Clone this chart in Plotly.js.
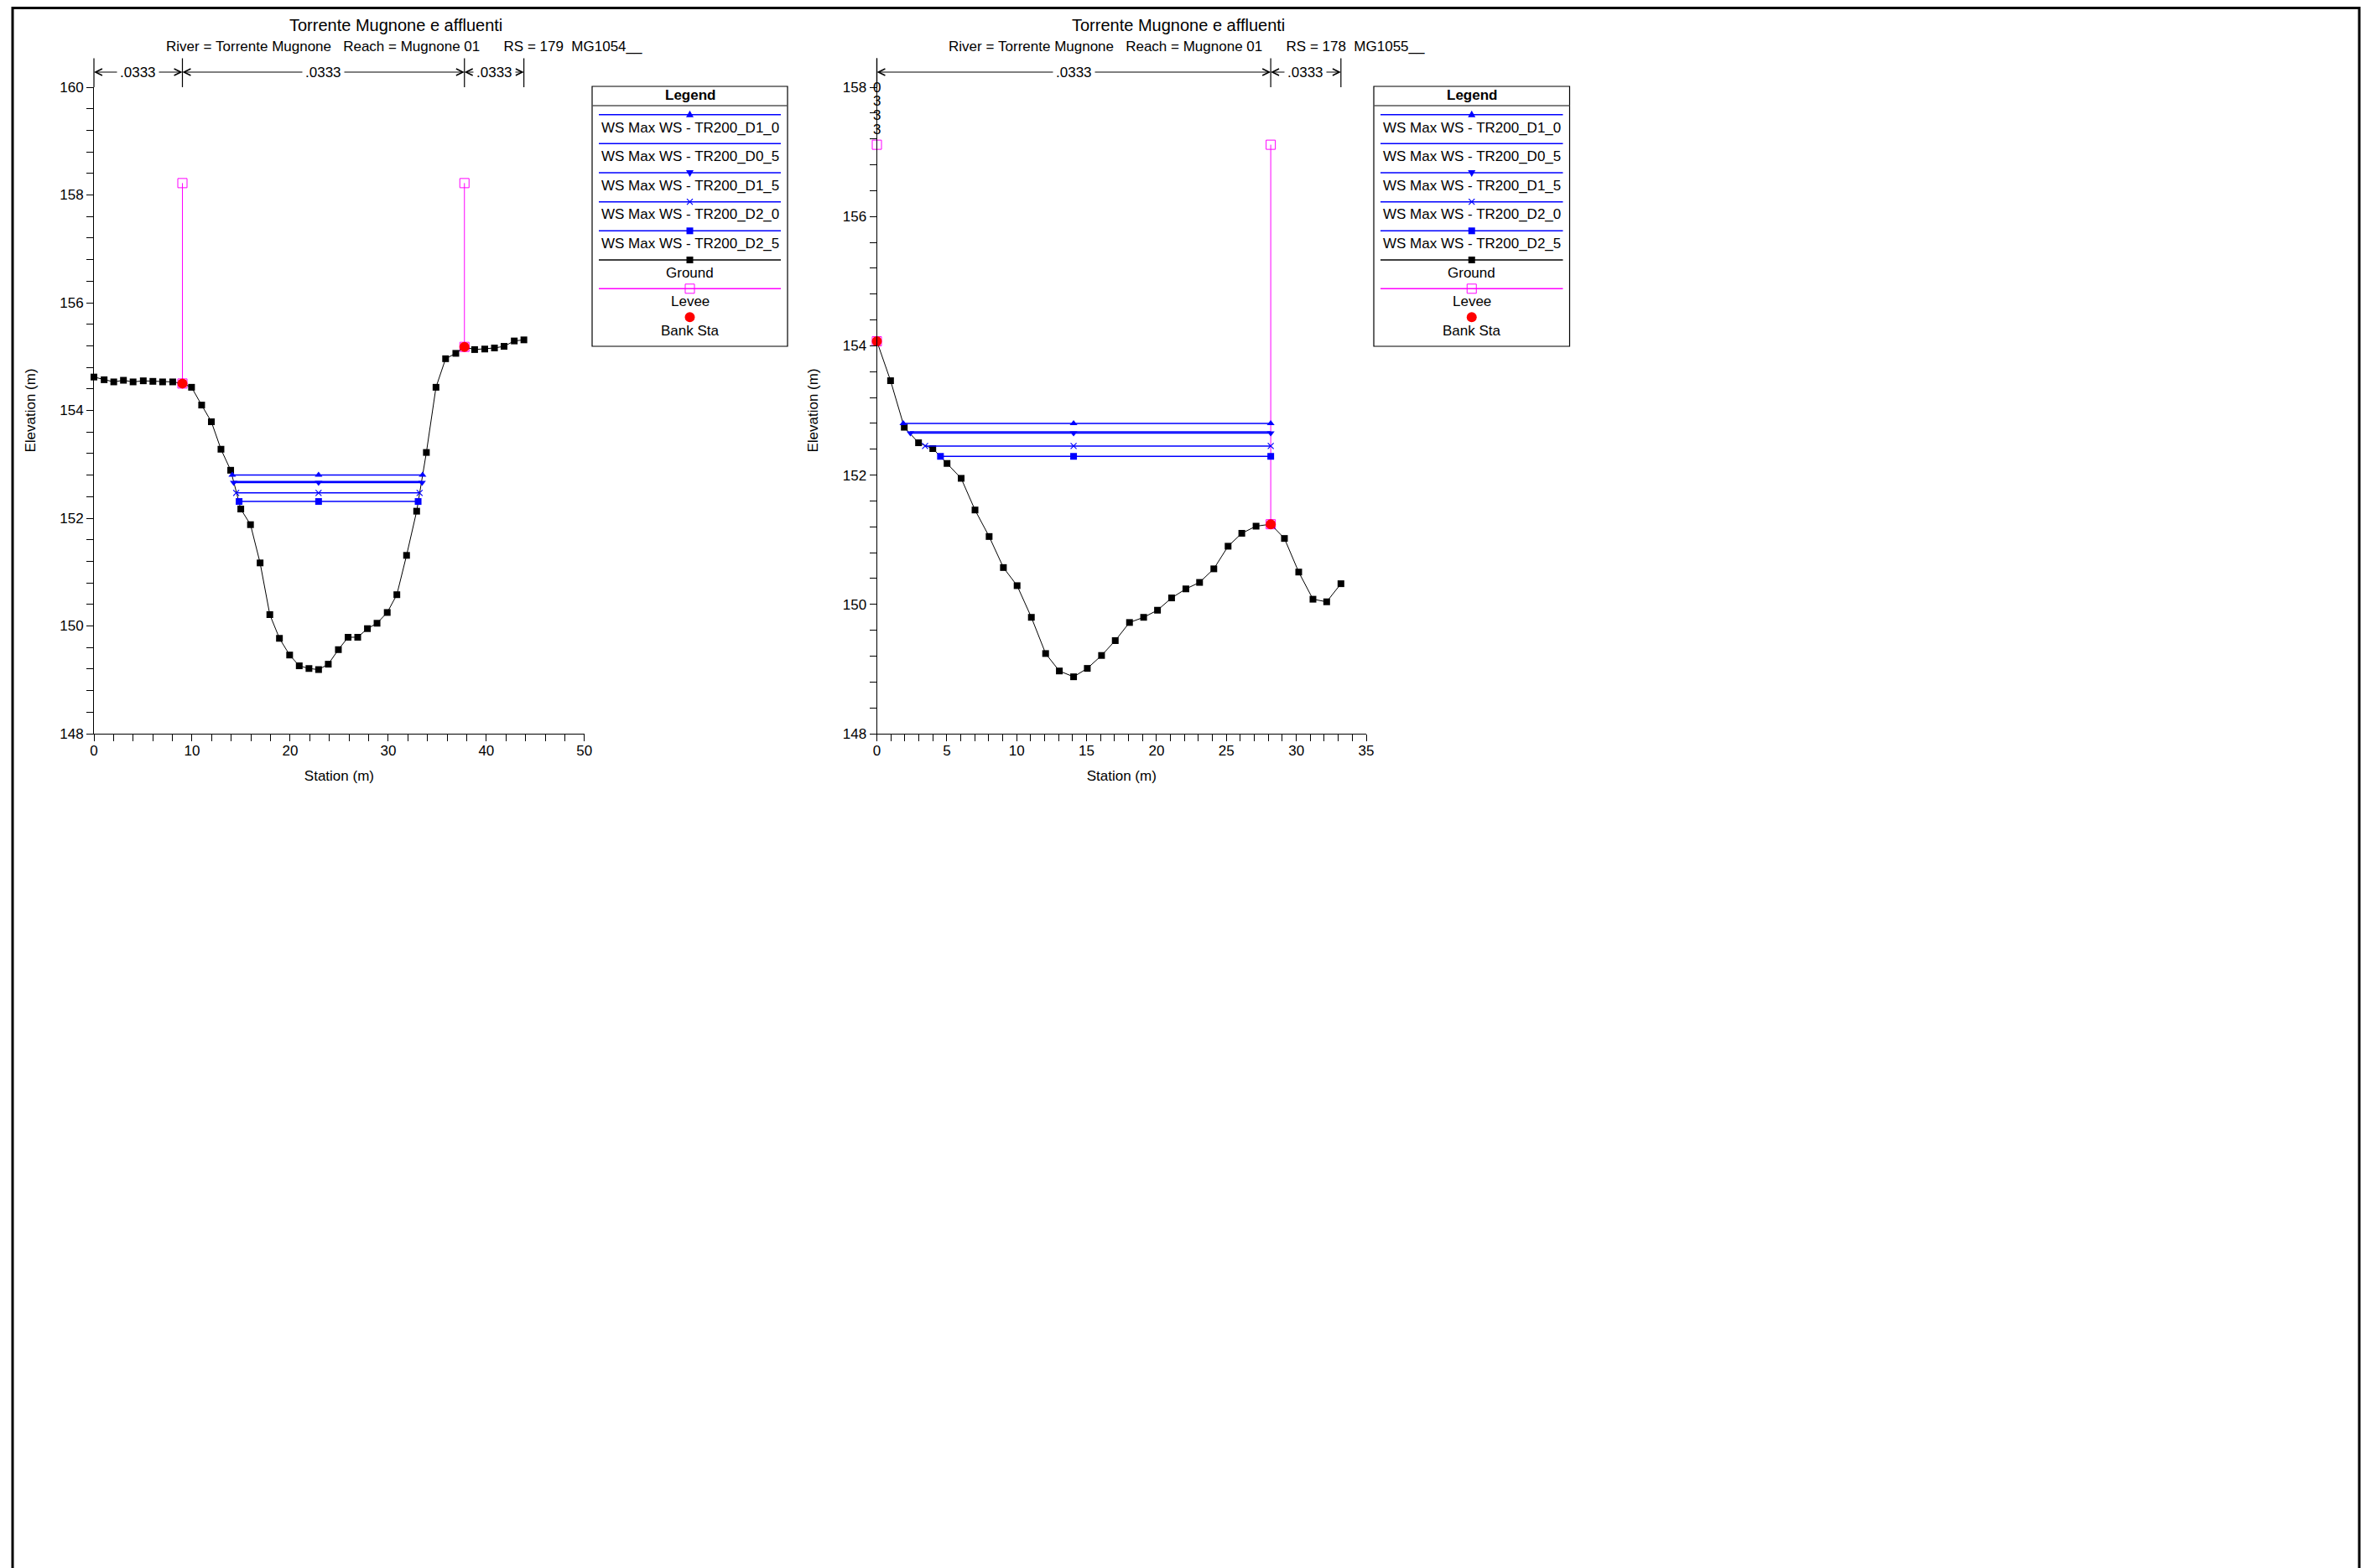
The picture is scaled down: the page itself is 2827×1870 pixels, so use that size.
<!DOCTYPE html>
<html><head><meta charset="utf-8">
<script src="https://cdn.plot.ly/plotly-3.0.1.min.js"></script>
<style>html,body{margin:0;padding:0;background:#fff}#chart{width:2827px;height:1870px}</style>
</head><body><div id="chart"></div>
<script>
// ================= DATA =================
const chartTitle = 'Torrente Mugnone e affluenti';
const subtitle179 = 'River = Torrente Mugnone   Reach = Mugnone 01      RS = 179  MG1054__';
const subtitle178 = 'River = Torrente Mugnone   Reach = Mugnone 01      RS = 178  MG1055__';

const wsNames = ['WS Max WS - TR200_D1_0', 'WS Max WS - TR200_D0_5', 'WS Max WS - TR200_D1_5',
                 'WS Max WS - TR200_D2_0', 'WS Max WS - TR200_D2_5'];
const groundName = 'Ground';
const leveeName = 'Levee';
const bankName = 'Bank Sta';
const legendTitle = 'Legend';
const xTitle = 'Station (m)';
const yTitle = 'Elevation (m)';

// RS 179 (left)
const sta179 = [0, 1.04, 2.02, 3.01, 3.99, 5.03, 6.01, 7.0, 8.03, 9.02, 9.95, 10.98, 11.97, 12.95, 13.94,
  14.97, 15.96, 16.94, 17.93, 18.91, 19.95, 20.93, 21.92, 22.9, 23.89, 24.92, 25.91, 26.89, 27.88, 28.86,
  29.9, 30.88, 31.87, 32.9, 33.89, 34.87, 35.85, 36.89, 37.77, 38.81, 39.84, 40.83, 41.81, 42.85, 43.83];
const elev179 = [154.62, 154.57, 154.53, 154.56, 154.53, 154.55, 154.54, 154.53, 154.53, 154.50, 154.43,
  154.10, 153.79, 153.28, 152.89, 152.17, 151.88, 151.17, 150.21, 149.77, 149.46, 149.26, 149.21, 149.19,
  149.29, 149.56, 149.79, 149.79, 149.95, 150.05, 150.25, 150.58, 151.31, 152.13, 153.22, 154.43, 154.96,
  155.06, 155.18, 155.13, 155.14, 155.16, 155.19, 155.29, 155.31];
const bankSta179 = [9.02, 37.77];
const bankElev179 = [154.50, 155.18];
const leveeTop179 = [158.22, 158.22];
const nValues179 = ['.0333', '.0333', '.0333'];
const wsElev179 = [152.80, 152.68, 152.66, 152.47, 152.31];
const wsLeft179 = [14.1, 14.25, 14.25, 14.5, 14.8];
const wsMid179 = [22.9, 22.9, 22.9, 22.9, 22.9];
const wsRight179 = [33.5, 33.45, 33.45, 33.2, 33.05];

// RS 178 (right)
const sta178 = [0, 0.98, 1.96, 2.98, 4.0, 5.02, 6.03, 7.02, 8.03, 9.05, 10.03, 11.05, 12.07, 13.05, 14.07,
  15.05, 16.07, 17.05, 18.07, 19.08, 20.07, 21.08, 22.1, 23.08, 24.1, 25.12, 26.1, 27.12, 28.17, 29.15,
  30.17, 31.19, 32.17, 33.19];
const elev178 = [154.07, 153.46, 152.74, 152.50, 152.41, 152.18, 151.95, 151.46, 151.05, 150.57, 150.29,
  149.80, 149.24, 148.97, 148.88, 149.01, 149.21, 149.44, 149.72, 149.80, 149.91, 150.10, 150.24, 150.34,
  150.55, 150.90, 151.10, 151.21, 151.24, 151.02, 150.50, 150.08, 150.04, 150.32];
const bankSta178 = [0, 28.17];
const bankElev178 = [154.07, 151.24];
const leveeTop178 = [157.11, 157.11];
const nValues178 = ['.0333', '.0333', '.0333'];
const wsElev178 = [152.80, 152.67, 152.65, 152.45, 152.29];
const wsLeft178 = [1.89, 2.35, 2.4, 3.45, 4.55];
const wsMid178 = [14.07, 14.07, 14.07, 14.07, 14.07];
const wsRight178 = [28.17, 28.17, 28.17, 28.17, 28.17];

// ================= LAYOUT HELPERS =================
const W = 2827, H = 1870, ML = 112, MR = 1198, MT = 104, MB = 995;
const PW = W - ML - MR, PH = H - MT - MB;
const X = px => (px - ML) / PW;
const Y = py => (H - MB - py) / PH;
const FONT = 'Arial, "Liberation Sans", sans-serif';
const BLUE = '#0000ff', MAG = '#ff00ff', RED = '#ff0000';
const wsSymbols = ['triangle-up', null, 'triangle-down', 'x-thin', 'square'];
const nb = s => s.replace(/ /g, '\u00a0');

const traces = [];
function section(sta, elev, bankSta, bankElev, leveeTop, wsElev, wsLeft, wsMid, wsRight, xa, ya) {
  for (let i = 0; i < bankSta.length; i++) {
    traces.push({x: [bankSta[i], bankSta[i]], y: [leveeTop[i], bankElev[i]], xaxis: xa, yaxis: ya,
      mode: 'lines+markers', line: {color: MAG, width: 1}, cliponaxis: false,
      marker: {symbol: 'square-open', size: 11, color: MAG, line: {width: 1, color: MAG}},
      name: leveeName, showlegend: false});
  }
  traces.push({x: sta, y: elev, xaxis: xa, yaxis: ya, mode: 'lines+markers', cliponaxis: false,
    line: {color: 'black', width: 1}, marker: {symbol: 'square', size: 8, color: 'black'},
    name: groundName, showlegend: false});
  for (let i = wsElev.length - 1; i >= 0; i--) {
    const sym = wsSymbols[i];
    const tr = {x: [wsLeft[i], wsMid[i], wsRight[i]], y: [wsElev[i], wsElev[i], wsElev[i]],
      xaxis: xa, yaxis: ya, mode: sym ? 'lines+markers' : 'lines', cliponaxis: false,
      line: {color: BLUE, width: 1.5}, name: wsNames[i], showlegend: false};
    if (sym) {
      tr.marker = {symbol: sym, size: sym === 'x-thin' ? 7 : 8, color: BLUE,
        line: {color: BLUE, width: sym === 'x-thin' ? 1.2 : 0}};
    }
    traces.push(tr);
  }
  traces.push({x: bankSta, y: bankElev, xaxis: xa, yaxis: ya, mode: 'markers', cliponaxis: false,
    marker: {symbol: 'circle', size: 12, color: RED}, name: bankName, showlegend: false});
}
section(sta179, elev179, bankSta179, bankElev179, leveeTop179, wsElev179, wsLeft179, wsMid179, wsRight179, 'x', 'y');
section(sta178, elev178, bankSta178, bankElev178, leveeTop178, wsElev178, wsLeft178, wsMid178, wsRight178, 'x2', 'y2');

const annotations = [];
const shapes = [];

// outer border
shapes.push({type: 'rect', xref: 'paper', yref: 'paper', x0: X(15), x1: X(2813), y0: Y(1900), y1: Y(9.5),
  line: {color: 'black', width: 3}});

// titles
function titles(cx1, cx2, sub) {
  annotations.push({xref: 'paper', yref: 'paper', x: X(cx1), y: Y(30), text: chartTitle, showarrow: false,
    xanchor: 'center', yanchor: 'middle', font: {family: FONT, size: 20, color: 'black'}});
  annotations.push({xref: 'paper', yref: 'paper', x: X(cx2), y: Y(55.5), text: nb(sub), showarrow: false,
    xanchor: 'center', yanchor: 'middle', font: {family: FONT, size: 17, color: 'black'}});
}
titles(472, 481.7, subtitle179);
titles(1405, 1414.8, subtitle178);

// Manning's n bands
function nBands(sta, bankSta, vals, xref) {
  const bounds = [sta[0], bankSta[0], bankSta[1], sta[sta.length - 1]];
  const lineShift = 18;
  bounds.forEach(b => {
    annotations.push({xref: xref, yref: 'paper', x: b, y: 1, ax: 0, ay: -35, text: '', showarrow: true,
      arrowhead: 0, arrowwidth: 1.2, arrowcolor: 'black', standoff: 0, startstandoff: 0, borderpad: 0, font: {size: 1}});
  });
  for (let i = 0; i < vals.length; i++) {
    const a = bounds[i], b = bounds[i + 1];
    if (b - a < 0.01) {
      const chars = vals[i].replace('.', '').split('');
      chars.forEach((c, k) => annotations.push({xref: xref, yref: 'paper', x: a, y: 1, yshift: -k * 16.7,
        text: c, showarrow: false, xanchor: 'center', yanchor: 'middle', font: {family: FONT, size: 17, color: 'black'}}));
      continue;
    }
    const m = (a + b) / 2;
    [a, b].forEach(t => annotations.push({xref: xref, yref: 'paper', x: t, y: 1, yshift: lineShift,
      axref: xref, ax: m, ayref: 'pixel', ay: 0, text: '', showarrow: true, arrowhead: 5, arrowsize: 1.6,
      arrowwidth: 1, arrowcolor: 'black', standoff: 0, borderpad: 0, font: {size: 1}}));
    annotations.push({xref: xref, yref: 'paper', x: m, y: 1, yshift: lineShift, text: vals[i], showarrow: false,
      xanchor: 'center', yanchor: 'middle', bgcolor: 'white', borderpad: 3,
      font: {family: FONT, size: 17, color: 'black'}});
  }
}
nBands(sta179, bankSta179, nValues179, 'x');
nBands(sta178, bankSta178, nValues178, 'x2');

// custom legend boxes
function legendBox(x0, x1) {
  const cx = (x0 + x1) / 2;
  const lx0 = x0 + 8, lx1 = x1 - 8;
  shapes.push({type: 'rect', xref: 'paper', yref: 'paper', x0: X(x0), x1: X(x1), y0: Y(413), y1: Y(103),
    line: {color: 'black', width: 1.2}, fillcolor: 'white', layer: 'below'});
  shapes.push({type: 'line', xref: 'paper', yref: 'paper', x0: X(x0), x1: X(x1), y0: Y(126), y1: Y(126),
    line: {color: '#555', width: 1.5}});
  annotations.push({xref: 'paper', yref: 'paper', x: X(cx), y: Y(114), text: '<b>' + legendTitle + '</b>',
    showarrow: false, xanchor: 'center', yanchor: 'middle', font: {family: FONT, size: 17, color: 'black'}});
  const lineYs = [136.7, 171.3, 206, 240.7, 275.3, 310, 344.3];
  const textYs = [152.3, 186.7, 221, 255.7, 290, 325, 359.3, 394];
  const lineColors = [BLUE, BLUE, BLUE, BLUE, BLUE, 'black', MAG];
  const labels = wsNames.concat([groundName, leveeName, bankName]);
  lineYs.forEach((ly, i) => shapes.push({type: 'line', xref: 'paper', yref: 'paper', x0: X(lx0), x1: X(lx1),
    y0: Y(ly), y1: Y(ly), line: {color: lineColors[i], width: 1.5}}));
  labels.forEach((t, i) => annotations.push({xref: 'paper', yref: 'paper', x: X(cx), y: Y(textYs[i]), text: t,
    showarrow: false, xanchor: 'center', yanchor: 'middle', font: {family: FONT, size: 17, color: 'black'}}));
  const pix = (ly, extra) => Object.assign({xref: 'paper', yref: 'paper', xsizemode: 'pixel', ysizemode: 'pixel',
    xanchor: X(cx), yanchor: Y(ly)}, extra);
  shapes.push(pix(lineYs[0], {type: 'path', path: 'M-4.5,-3L4.5,-3L0,5Z', fillcolor: BLUE, line: {width: 0}}));
  shapes.push(pix(lineYs[2], {type: 'path', path: 'M-4.5,3L4.5,3L0,-5Z', fillcolor: BLUE, line: {width: 0}}));
  shapes.push(pix(lineYs[3], {type: 'path', path: 'M-3.5,-3.5L3.5,3.5M-3.5,3.5L3.5,-3.5', line: {color: BLUE, width: 1.2}}));
  shapes.push(pix(lineYs[4], {type: 'rect', x0: -4, x1: 4, y0: -4, y1: 4, fillcolor: BLUE, line: {width: 0}}));
  shapes.push(pix(lineYs[5], {type: 'rect', x0: -4, x1: 4, y0: -4, y1: 4, fillcolor: 'black', line: {width: 0}}));
  shapes.push(pix(lineYs[6], {type: 'rect', x0: -5.5, x1: 5.5, y0: -5.5, y1: 5.5, fillcolor: 'rgba(0,0,0,0)', line: {color: MAG, width: 1}}));
  shapes.push(pix(378.3, {type: 'circle', x0: -6, x1: 6, y0: -6, y1: 6, fillcolor: RED, line: {width: 0}}));
}
legendBox(706, 939);
legendBox(1638, 1871.5);

function axis(extra) {
  return Object.assign({showline: true, linecolor: 'black', linewidth: 1, ticks: 'outside', ticklen: 8,
    tickwidth: 1, tickcolor: 'black', showgrid: false, zeroline: false, mirror: false, fixedrange: true,
    tickfont: {family: FONT, size: 17, color: 'black'}}, extra);
}
const xTitleObj = {text: xTitle, font: {family: FONT, size: 17, color: 'black'}, standoff: 14};
const yTitleObj = {text: yTitle, font: {family: FONT, size: 17, color: 'black'}, standoff: 24};

const layout = {
  width: W, height: H, paper_bgcolor: 'white', plot_bgcolor: 'white', showlegend: false,
  margin: {l: ML, r: MR, t: MT, b: MB, pad: 0},
  font: {family: FONT, size: 17, color: 'black'},
  xaxis: axis({domain: [0, X(696.8)], range: [0, 50], dtick: 10, tick0: 0, anchor: 'y', title: xTitleObj,
    ticklabelstandoff: -3,
    minor: {dtick: 2, ticks: 'outside', ticklen: 8, tickcolor: 'black', tickwidth: 1, showgrid: false}}),
  yaxis: axis({domain: [0, 1], range: [148, 160], dtick: 2, tick0: 148, anchor: 'x', title: yTitleObj,
    minor: {dtick: 0.4, ticks: 'outside', ticklen: 8, tickcolor: 'black', tickwidth: 1, showgrid: false}}),
  xaxis2: axis({domain: [X(1045.5), 1], range: [0, 35], dtick: 5, tick0: 0, anchor: 'y2', title: xTitleObj,
    ticklabelstandoff: -3,
    minor: {dtick: 1, ticks: 'outside', ticklen: 8, tickcolor: 'black', tickwidth: 1, showgrid: false}}),
  yaxis2: axis({domain: [0, 1], range: [148, 158], dtick: 2, tick0: 148, anchor: 'x2', title: yTitleObj,
    minor: {dtick: 0.4, ticks: 'outside', ticklen: 8, tickcolor: 'black', tickwidth: 1, showgrid: false}}),
  annotations: annotations,
  shapes: shapes
};

Plotly.newPlot('chart', traces, layout, {displayModeBar: false, staticPlot: true});
</script>
</body></html>
